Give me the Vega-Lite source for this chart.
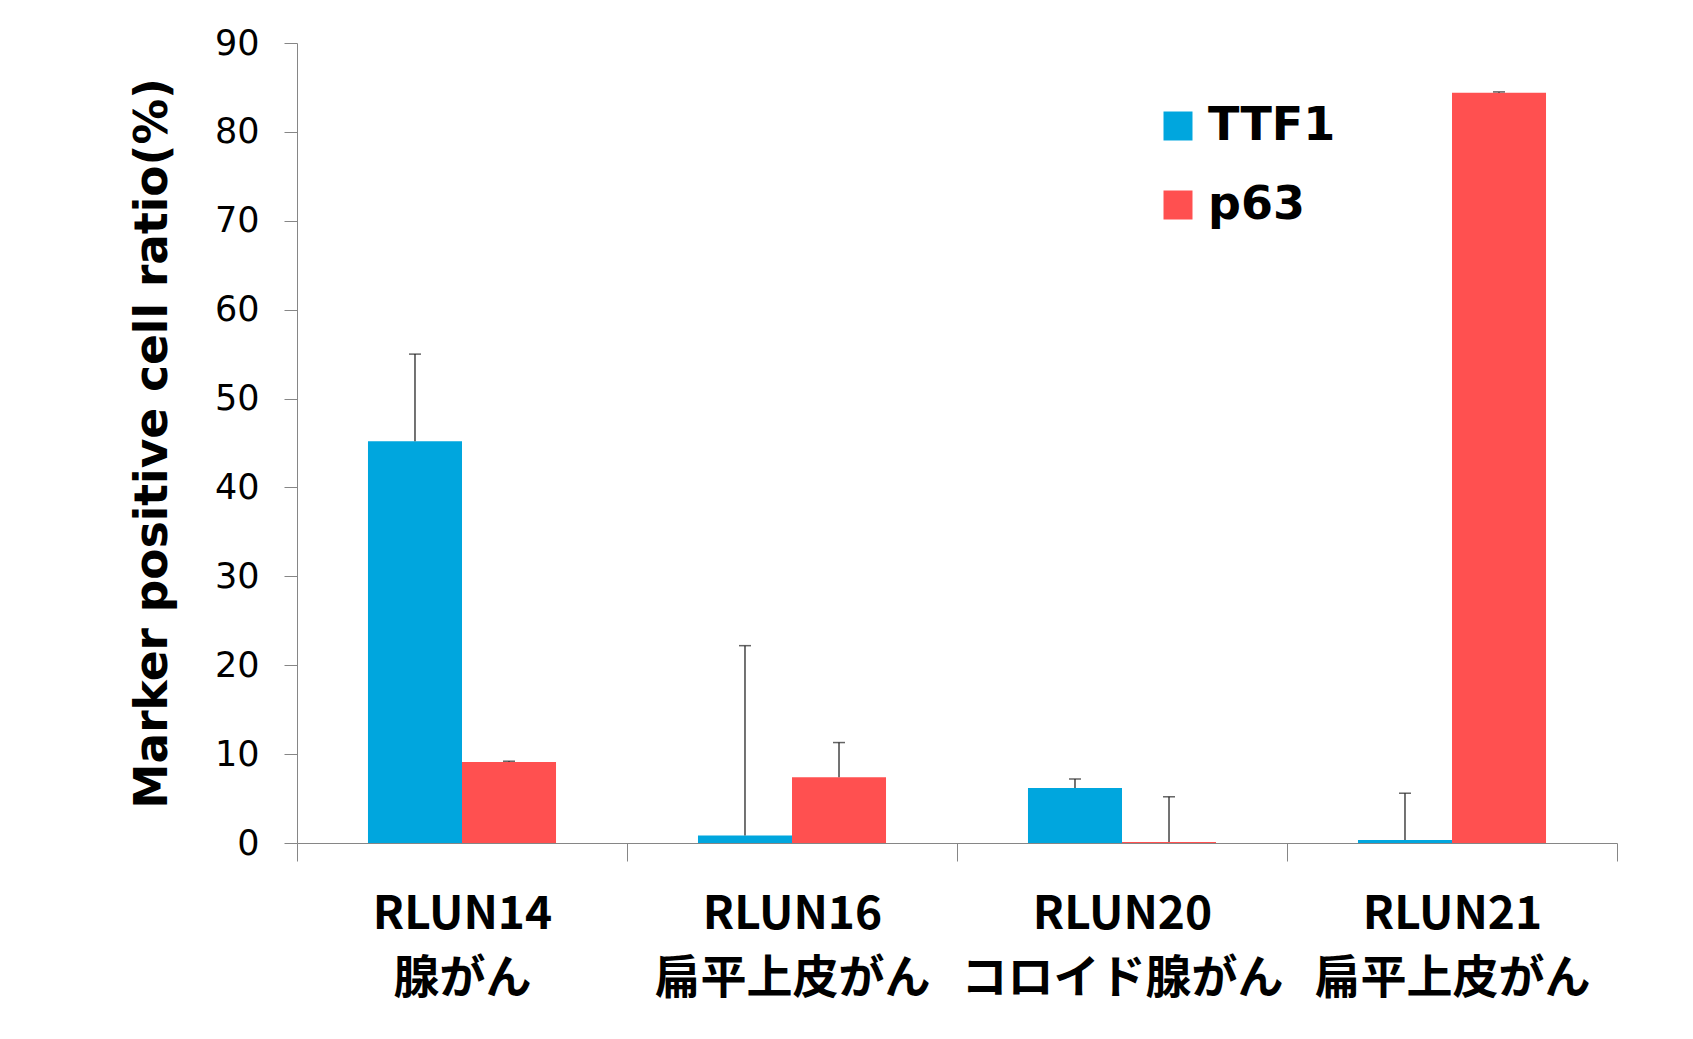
{
  "$schema": "https://vega.github.io/schema/vega-lite/v6.json",
  "width": 1320,
  "height": 800,
  "autosize": {"type": "none"},
  "padding": {"left": 297, "top": 43, "right": 76, "bottom": 196},
  "background": "white",
  "config": {
    "view": {"stroke": null},
    "font": "DejaVu Sans",
    "axis": {"domainColor": "#868686", "tickColor": "#868686", "grid": false, "labelColor": "#000000", "titleColor": "#000000"}
  },
  "data": {
    "values": [
      {"line": "RLUN14 腺がん", "marker": "TTF1", "value": 45.2, "upper": 55.0},
      {"line": "RLUN14 腺がん", "marker": "p63", "value": 9.1, "upper": 9.2},
      {"line": "RLUN16 扁平上皮がん", "marker": "TTF1", "value": 0.85, "upper": 22.2},
      {"line": "RLUN16 扁平上皮がん", "marker": "p63", "value": 7.4, "upper": 11.3},
      {"line": "RLUN20 コロイド腺がん", "marker": "TTF1", "value": 6.2, "upper": 7.2},
      {"line": "RLUN20 コロイド腺がん", "marker": "p63", "value": 0.1, "upper": 5.2},
      {"line": "RLUN21 扁平上皮がん", "marker": "TTF1", "value": 0.35, "upper": 5.6},
      {"line": "RLUN21 扁平上皮がん", "marker": "p63", "value": 84.4, "upper": 84.5}
    ]
  },
  "encoding": {
    "x": {
      "field": "line",
      "type": "nominal",
      "sort": null,
      "scale": {"paddingInner": 0, "paddingOuter": 0},
      "axis": {
        "title": null,
        "labelAngle": 0,
        "labelFont": "Noto Sans CJK JP",
        "labelFontWeight": "bold",
        "labelFontSize": 46,
        "labelLineHeight": 64,
        "labelLimit": 0,
        "labelExpr": "split(datum.label, ' ')",
        "labelPadding": 31,
        "tickBand": "extent",
        "tickSize": 18
      }
    },
    "xOffset": {
      "field": "marker",
      "type": "nominal",
      "sort": ["TTF1", "p63"],
      "scale": {"paddingInner": 0, "paddingOuter": 0.755}
    }
  },
  "layer": [
    {
      "mark": {"type": "bar"},
      "encoding": {
        "y": {
          "field": "value",
          "type": "quantitative",
          "stack": null,
          "scale": {"domain": [0, 90], "nice": false},
          "title": "Marker positive cell ratio(%)",
          "axis": {
            "values": [0, 10, 20, 30, 40, 50, 60, 70, 80, 90],
            "labelFontSize": 35,
            "labelPadding": 25,
            "tickSize": 13,
            "titleFontSize": 45.5,
            "titleFontWeight": "bold",
            "titlePadding": 38
          }
        },
        "color": {
          "field": "marker",
          "type": "nominal",
          "scale": {"domain": ["TTF1", "p63"], "range": ["#00A6DE", "#FF5050"]},
          "legend": {
            "title": null,
            "orient": "none",
            "legendX": 858,
            "legendY": 60,
            "padding": 0,
            "symbolType": "square",
            "symbolSize": 841,
            "symbolStrokeWidth": 0,
            "labelFontSize": 46,
            "labelFontWeight": "bold",
            "labelColor": "#000000",
            "labelOffset": 7,
            "rowPadding": 33
          }
        }
      }
    },
    {
      "mark": {"type": "rule", "color": "#444444", "strokeWidth": 1.5},
      "encoding": {
        "y": {"field": "value", "type": "quantitative", "title": "Marker positive cell ratio(%)"},
        "y2": {"field": "upper"}
      }
    },
    {
      "mark": {"type": "tick", "color": "#222222", "thickness": 1.5, "size": 12},
      "encoding": {
        "y": {"field": "upper", "type": "quantitative", "title": "Marker positive cell ratio(%)"}
      }
    }
  ]
}
